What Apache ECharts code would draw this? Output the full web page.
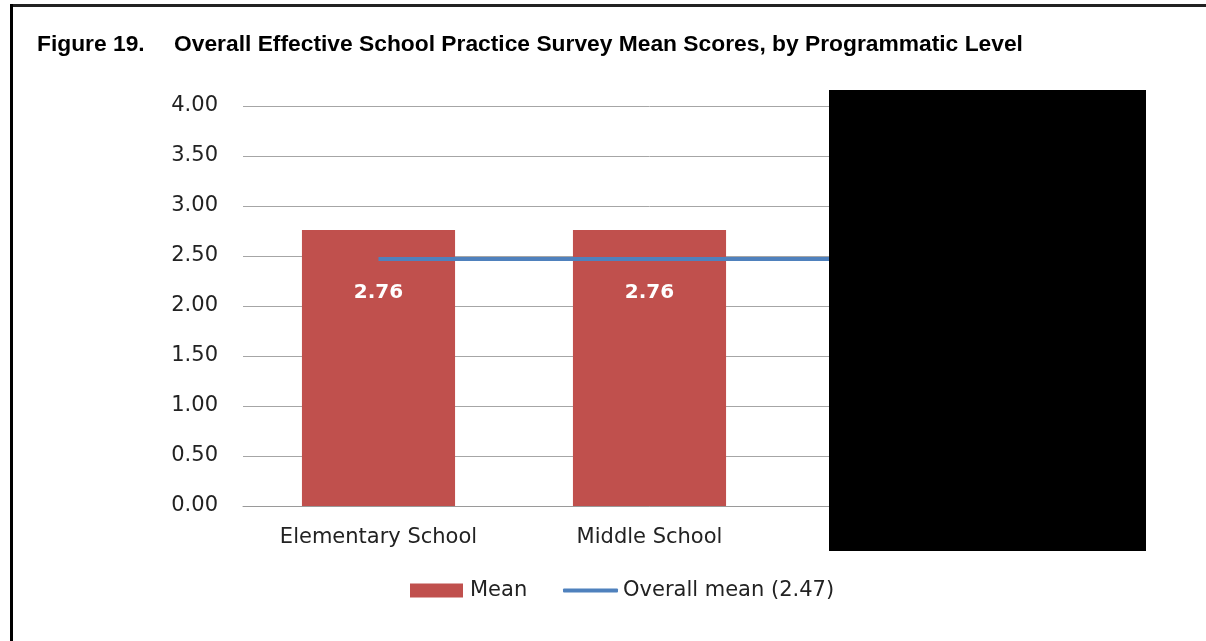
<!DOCTYPE html>
<html>
<head>
<meta charset="utf-8">
<script src="https://cdn.jsdelivr.net/npm/echarts@6/dist/echarts.min.js"></script>
<style>
html, body { margin: 0; padding: 0; background: #fff; }
#chart { width: 1206px; height: 641px; }
</style>
</head>
<body>
<div id="chart"></div>
<script>
// values (third level is covered by the black box)
var levels = ['Elementary School', 'Middle School', 'High School'];
var meanScores = [2.76, 2.76, 2.05];
var overallMean = [2.47, 2.47, 2.47];
var yTicks = [0, 0.5, 1, 1.5, 2, 2.5, 3, 3.5, 4];

var chart = echarts.init(document.getElementById('chart'));
var axisFont = 'DejaVu Sans';
var titleStyle = { fontFamily: 'Liberation Sans', fontWeight: 'bold', fontSize: 22.8, color: '#000' };

chart.setOption({
    animation: false,
    backgroundColor: '#fff',
    title: [{
        text: 'Figure 19.',
        left: 37, top: 33, padding: 0,
        textStyle: titleStyle
    }, {
        text: 'Overall Effective School Practice Survey Mean Scores, by Programmatic Level',
        left: 174, top: 33, padding: 0,
        textStyle: titleStyle
    }],
    legend: [{
        left: 410, top: 580, padding: 0,
        itemWidth: 53, itemHeight: 14,
        textStyle: { fontFamily: axisFont, fontSize: 21, color: '#222', padding: [0, 0, 0, 2] },
        data: [{ name: 'Mean', icon: 'rect' }]
    }, {
        left: 563, top: 580, padding: 0,
        itemWidth: 55, itemHeight: 4,
        textStyle: { fontFamily: axisFont, fontSize: 21, color: '#222', padding: [0, 0, 0, 0] },
        data: [{ name: 'Overall mean (2.47)', icon: 'roundRect' }]
    }],
    grid: { left: 243, right: 150, top: 106, bottom: 135 },
    xAxis: {
        type: 'category',
        data: levels,
        axisLine: { lineStyle: { color: '#9a9a9a', width: 1 } },
        axisTick: { show: false },
        axisLabel: { fontFamily: axisFont, fontSize: 21, color: '#222', margin: 21 }
    },
    yAxis: {
        type: 'value',
        min: yTicks[0], max: yTicks[yTicks.length - 1], interval: 0.5,
        axisLine: { show: false },
        axisTick: { show: false },
        splitLine: { lineStyle: { color: '#a6a6a6', width: 1 } },
        axisLabel: {
            fontFamily: axisFont, fontSize: 21, color: '#222', margin: 25,
            formatter: function (v) { return v.toFixed(2); }
        }
    },
    series: [{
        name: 'Mean',
        type: 'bar',
        data: meanScores,
        barWidth: '56.5%',
        itemStyle: { color: '#C0504D' },
        label: {
            show: true, position: 'insideTop', distance: 53,
            fontFamily: axisFont, fontWeight: 'bold', fontSize: 20, color: '#fff',
            formatter: function (p) { return p.value.toFixed(2); }
        }
    }, {
        name: 'Overall mean (2.47)',
        type: 'line',
        data: overallMean,
        symbol: 'none',
        lineStyle: { color: '#4F81BD', width: 4 },
        itemStyle: { color: '#4F81BD' }
    }],
    graphic: [
        { type: 'rect', shape: { x: 829, y: 90, width: 317, height: 461 }, style: { fill: '#000' }, z: 100 },
        { type: 'rect', shape: { x: 10, y: 4, width: 1196, height: 3 }, style: { fill: '#222' }, z: 100 },
        { type: 'rect', shape: { x: 10, y: 4, width: 3, height: 637 }, style: { fill: '#000' }, z: 100 }
    ]
});
</script>
</body>
</html>
